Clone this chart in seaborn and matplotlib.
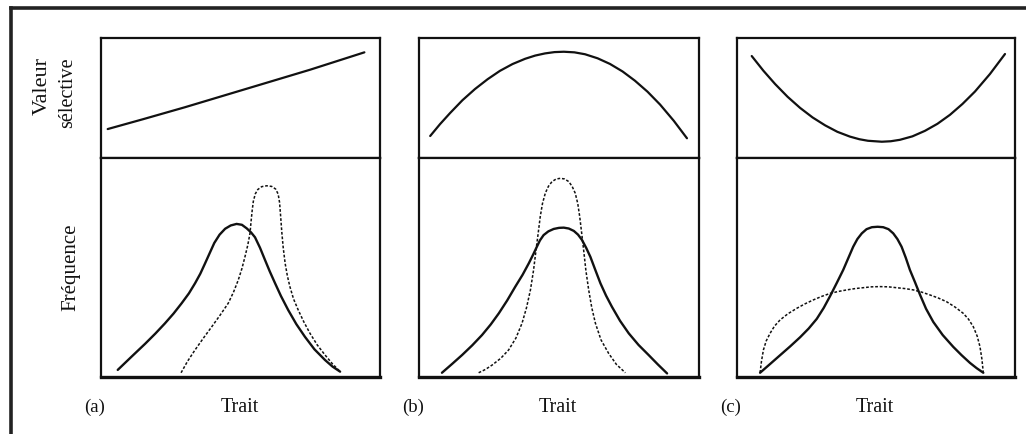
import matplotlib
matplotlib.use("Agg")
import matplotlib.pyplot as plt
from matplotlib.lines import Line2D
import pandas as pd
import seaborn as sns

# ---- Fitness curves (top row): trait position 0-100, fitness 0-100 ----
fit_a_x = [2.4, 15, 30, 45, 60, 75, 94.4]
fit_a_y = [23.8, 32, 42, 52.5, 63, 73.5, 88.0]

fit_b_x = [4.0, 7.5, 11.1, 15.5, 20.0, 24.5, 28.9, 33.4, 37.9, 41.5, 45.0, 48.4, 51.7,
           55.5, 59.3, 63.8, 68.2, 72.7, 77.1, 81.6, 86.1, 91.0, 95.7]
fit_b_y = [18.0, 27.9, 37.2, 47.9, 57.3, 65.5, 72.5, 78.2, 82.6, 85.3, 87.1, 88.2, 88.5,
           88.0, 86.4, 83.0, 78.3, 72.0, 64.3, 55.1, 44.3, 30.7, 16.1]

fit_c_x = [5.3, 9.5, 13.7, 18.2, 22.7, 27.2, 31.7, 36.1, 40.6, 44.0, 47.1, 52.1, 55.3,
           58.6, 63.1, 67.6, 72.1, 76.6, 81.1, 85.6, 91.0, 96.4]
fit_c_y = [84.9, 72.6, 61.5, 50.8, 41.5, 33.5, 26.9, 21.5, 17.5, 15.3, 14.0, 13.2, 13.6,
           14.8, 17.7, 22.3, 28.2, 35.7, 44.8, 55.2, 69.9, 86.6]

# ---- Trait distributions (bottom row): before selection (solid), after (dotted) ----
before_a_x = [6.0, 11.0, 15.8, 19.5, 22.9, 26.0, 28.9, 31.5, 33.7, 35.6, 37.3, 39.0,
              40.6, 42.5, 44.5, 46.5, 48.6, 50.5, 52.2, 53.8, 55.2, 57.0, 58.8, 60.5,
              62.4, 64.5, 67.1, 70.0, 73.1, 76.5, 80.3, 83.0, 85.7]
before_a_y = [3.1, 9.2, 15.0, 19.7, 24.3, 28.8, 33.5, 38.0, 42.6, 47.0, 51.7, 56.5,
              61.0, 64.8, 67.5, 69.0, 69.7, 69.3, 67.7, 65.8, 63.6, 58.8, 53.2, 48.0,
              42.6, 36.8, 30.4, 24.0, 18.2, 12.5, 7.6, 4.6, 2.3]
after_a_x = [28.7, 31.0, 33.7, 36.7, 39.7, 42.7, 45.6, 47.5, 49.2, 50.5, 51.6, 52.6,
             53.4, 53.8, 54.2, 54.6, 55.3, 56.2, 57.6, 59.4, 61.2, 62.6, 63.5, 64.0,
             64.4, 64.8, 65.3, 66.0, 66.8, 67.7, 69.0, 70.7, 72.7, 74.9, 77.5, 80.3,
             83.0, 85.7]
after_a_y = [1.8, 7.0, 12.2, 17.6, 22.8, 28.1, 33.5, 38.6, 44.1, 49.3, 54.7, 60.0,
             65.4, 71.0, 76.0, 80.0, 83.4, 85.4, 86.7, 87.1, 86.8, 85.6, 83.3, 79.5,
             73.0, 66.0, 59.0, 51.7, 46.0, 41.1, 35.5, 30.4, 25.0, 19.8, 14.5, 9.9,
             5.8, 2.3]

before_b_x = [8.2, 11.8, 15.4, 19.0, 22.5, 25.6, 28.5, 31.5, 34.4, 37.0, 39.2, 40.8,
              42.1, 43.2, 44.5, 46.2, 48.1, 50.0, 51.7, 53.5, 55.3, 56.8, 58.2, 59.7,
              61.2, 63.0, 64.8, 66.8, 68.9, 71.8, 74.9, 78.4, 82.0, 85.3, 88.6]
before_b_y = [1.8, 5.8, 9.9, 14.3, 19.0, 23.8, 28.9, 34.8, 41.1, 46.5, 51.7, 55.8,
              59.3, 62.2, 64.6, 66.3, 67.4, 67.9, 68.0, 67.6, 66.5, 64.8, 62.4, 58.8,
              54.7, 48.6, 42.6, 37.0, 31.9, 25.5, 19.8, 14.5, 9.9, 5.6, 1.5]
after_b_x = [21.3, 23.7, 26.1, 29.2, 32.0, 34.6, 36.8, 38.4, 39.8, 40.9, 41.8, 42.6,
             43.3, 44.1, 45.1, 46.2, 47.5, 49.0, 50.5, 52.0, 53.5, 54.7, 55.8, 56.7,
             57.4, 58.1, 58.8, 59.6, 60.6, 61.7, 63.0, 65.0, 67.7, 70.5, 73.7]
after_b_y = [1.8, 3.3, 5.3, 8.4, 12.2, 17.6, 24.4, 31.5, 39.6, 48.5, 57.8, 65.8,
             73.0, 79.0, 83.7, 86.8, 89.0, 90.2, 90.5, 90.2, 89.0, 86.8, 83.7, 79.0,
             73.0, 65.5, 57.8, 48.5, 39.6, 31.5, 24.4, 16.8, 10.7, 5.6, 1.8]

before_c_x = [8.3, 12.0, 15.5, 19.1, 22.7, 25.8, 28.7, 31.2, 33.5, 35.9, 38.2, 40.1,
              41.8, 43.3, 44.9, 46.6, 48.5, 50.6, 52.6, 54.5, 56.2, 57.7, 59.2, 60.7,
              62.2, 64.0, 65.8, 68.0, 70.6, 74.0, 77.8, 80.8, 83.8, 86.2, 88.6]
before_c_y = [1.8, 5.9, 9.8, 13.8, 18.0, 22.0, 26.4, 31.4, 36.8, 42.8, 48.7, 54.3,
              59.3, 62.8, 65.4, 67.3, 68.2, 68.4, 68.2, 67.3, 65.4, 62.8, 59.3, 54.3,
              48.7, 43.2, 37.5, 31.0, 25.0, 19.0, 13.6, 9.8, 6.3, 3.9, 1.8]
after_c_x = [8.3, 8.8, 9.5, 10.5, 11.9, 13.5, 15.5, 18.3, 21.5, 24.4, 27.4, 30.4,
             33.5, 36.5, 39.5, 42.5, 45.4, 48.4, 51.4, 54.4, 57.4, 60.4, 63.4, 66.4,
             69.4, 72.4, 75.4, 78.4, 81.4, 83.3, 85.0, 86.4, 87.4, 88.1, 88.6]
after_c_y = [1.8, 7.0, 12.2, 16.3, 19.8, 23.1, 25.9, 28.7, 31.2, 33.2, 35.0, 36.6,
             38.0, 38.9, 39.6, 40.2, 40.6, 41.0, 41.1, 41.0, 40.6, 40.2, 39.6, 38.6,
             37.3, 35.9, 34.2, 31.8, 28.9, 26.2, 22.8, 18.5, 13.7, 8.0, 1.8]

panel_tags = ["(a)", "(b)", "(c)"]
x_label = "Trait"
fitness_label = ["Valeur", "sélective"]
freq_label = "Fréquence"

sns.set_theme(style="white")
plt.rcParams["font.family"] = ["Liberation Serif", "DejaVu Serif"]

W, H = 1026, 434
fig = plt.figure(figsize=(W / 100, H / 100), dpi=100)
fig.patch.set_facecolor("white")

ink = "#111111"

# panel column extents in pixels (left, right)
cols = [(101, 380), (419, 699), (737, 1015)]
top_px, mid_px, bot_px = 38, 157.5, 376.7

fits = [(fit_a_x, fit_a_y), (fit_b_x, fit_b_y), (fit_c_x, fit_c_y)]
befores = [(before_a_x, before_a_y), (before_b_x, before_b_y), (before_c_x, before_c_y)]
afters = [(after_a_x, after_a_y), (after_b_x, after_b_y), (after_c_x, after_c_y)]


def style_axes(ax):
    ax.set_xlim(0, 100)
    ax.set_ylim(0, 100)
    ax.set_xticks([])
    ax.set_yticks([])
    ax.set_xlabel("")
    ax.set_ylabel("")
    ax.set_facecolor("white")
    for s in ax.spines.values():
        s.set_visible(True)
        s.set_color(ink)
        s.set_linewidth(1.6)


for i, (l, r) in enumerate(cols):
    left = l / W
    width = (r - l) / W
    ax_top = fig.add_axes([left, 1 - mid_px / H, width, (mid_px - top_px) / H])
    ax_bot = fig.add_axes([left, 1 - bot_px / H, width, (bot_px - mid_px) / H])

    fx, fy = fits[i]
    sns.lineplot(data=pd.DataFrame({"x": fx, "y": fy}), x="x", y="y", sort=False,
                 ax=ax_top, color=ink, linewidth=1.6)

    bx, by = befores[i]
    sns.lineplot(data=pd.DataFrame({"x": bx, "y": by}), x="x", y="y", sort=False,
                 ax=ax_bot, color=ink, linewidth=1.7)
    axx, axy = afters[i]
    sns.lineplot(data=pd.DataFrame({"x": axx, "y": axy}), x="x", y="y", sort=False,
                 ax=ax_bot, color=ink, linewidth=1.1, linestyle=(0, (1.8, 1.2)))

    style_axes(ax_top)
    style_axes(ax_bot)
    ax_bot.spines["bottom"].set_linewidth(2.4)

    # panel tag and axis title under each column
    fig.text((l - 6) / W, 1 - 407 / H, panel_tags[i], ha="center", va="center",
             fontsize=13.5, color=ink)
    fig.text(((l + r) / 2 - 1) / W, 1 - 407 / H, x_label, ha="center", va="center",
             fontsize=14.5, color=ink)

# row titles on the left
fig.text(42 / W, 1 - 86 / H, fitness_label[0], rotation=90, ha="center", va="center",
         fontsize=16, color=ink)
fig.text(68 / W, 1 - 93 / H, fitness_label[1], rotation=90, ha="center", va="center",
         fontsize=14.5, color=ink)
fig.text(71 / W, 1 - 267 / H, freq_label, rotation=90, ha="center", va="center",
         fontsize=15, color=ink)

# outer frame (left and top edges; the rest runs off the canvas)
fig.add_artist(Line2D([10.5 / W, 10.5 / W], [-0.05, 1 - 7.5 / H], transform=fig.transFigure,
                      color="#222222", linewidth=2.6, solid_capstyle="projecting"))
fig.add_artist(Line2D([10.5 / W, 1.05], [1 - 7.5 / H, 1 - 7.5 / H], transform=fig.transFigure,
                      color="#222222", linewidth=2.6, solid_capstyle="projecting"))

fig.savefig("out.png", dpi=100, facecolor="white")
